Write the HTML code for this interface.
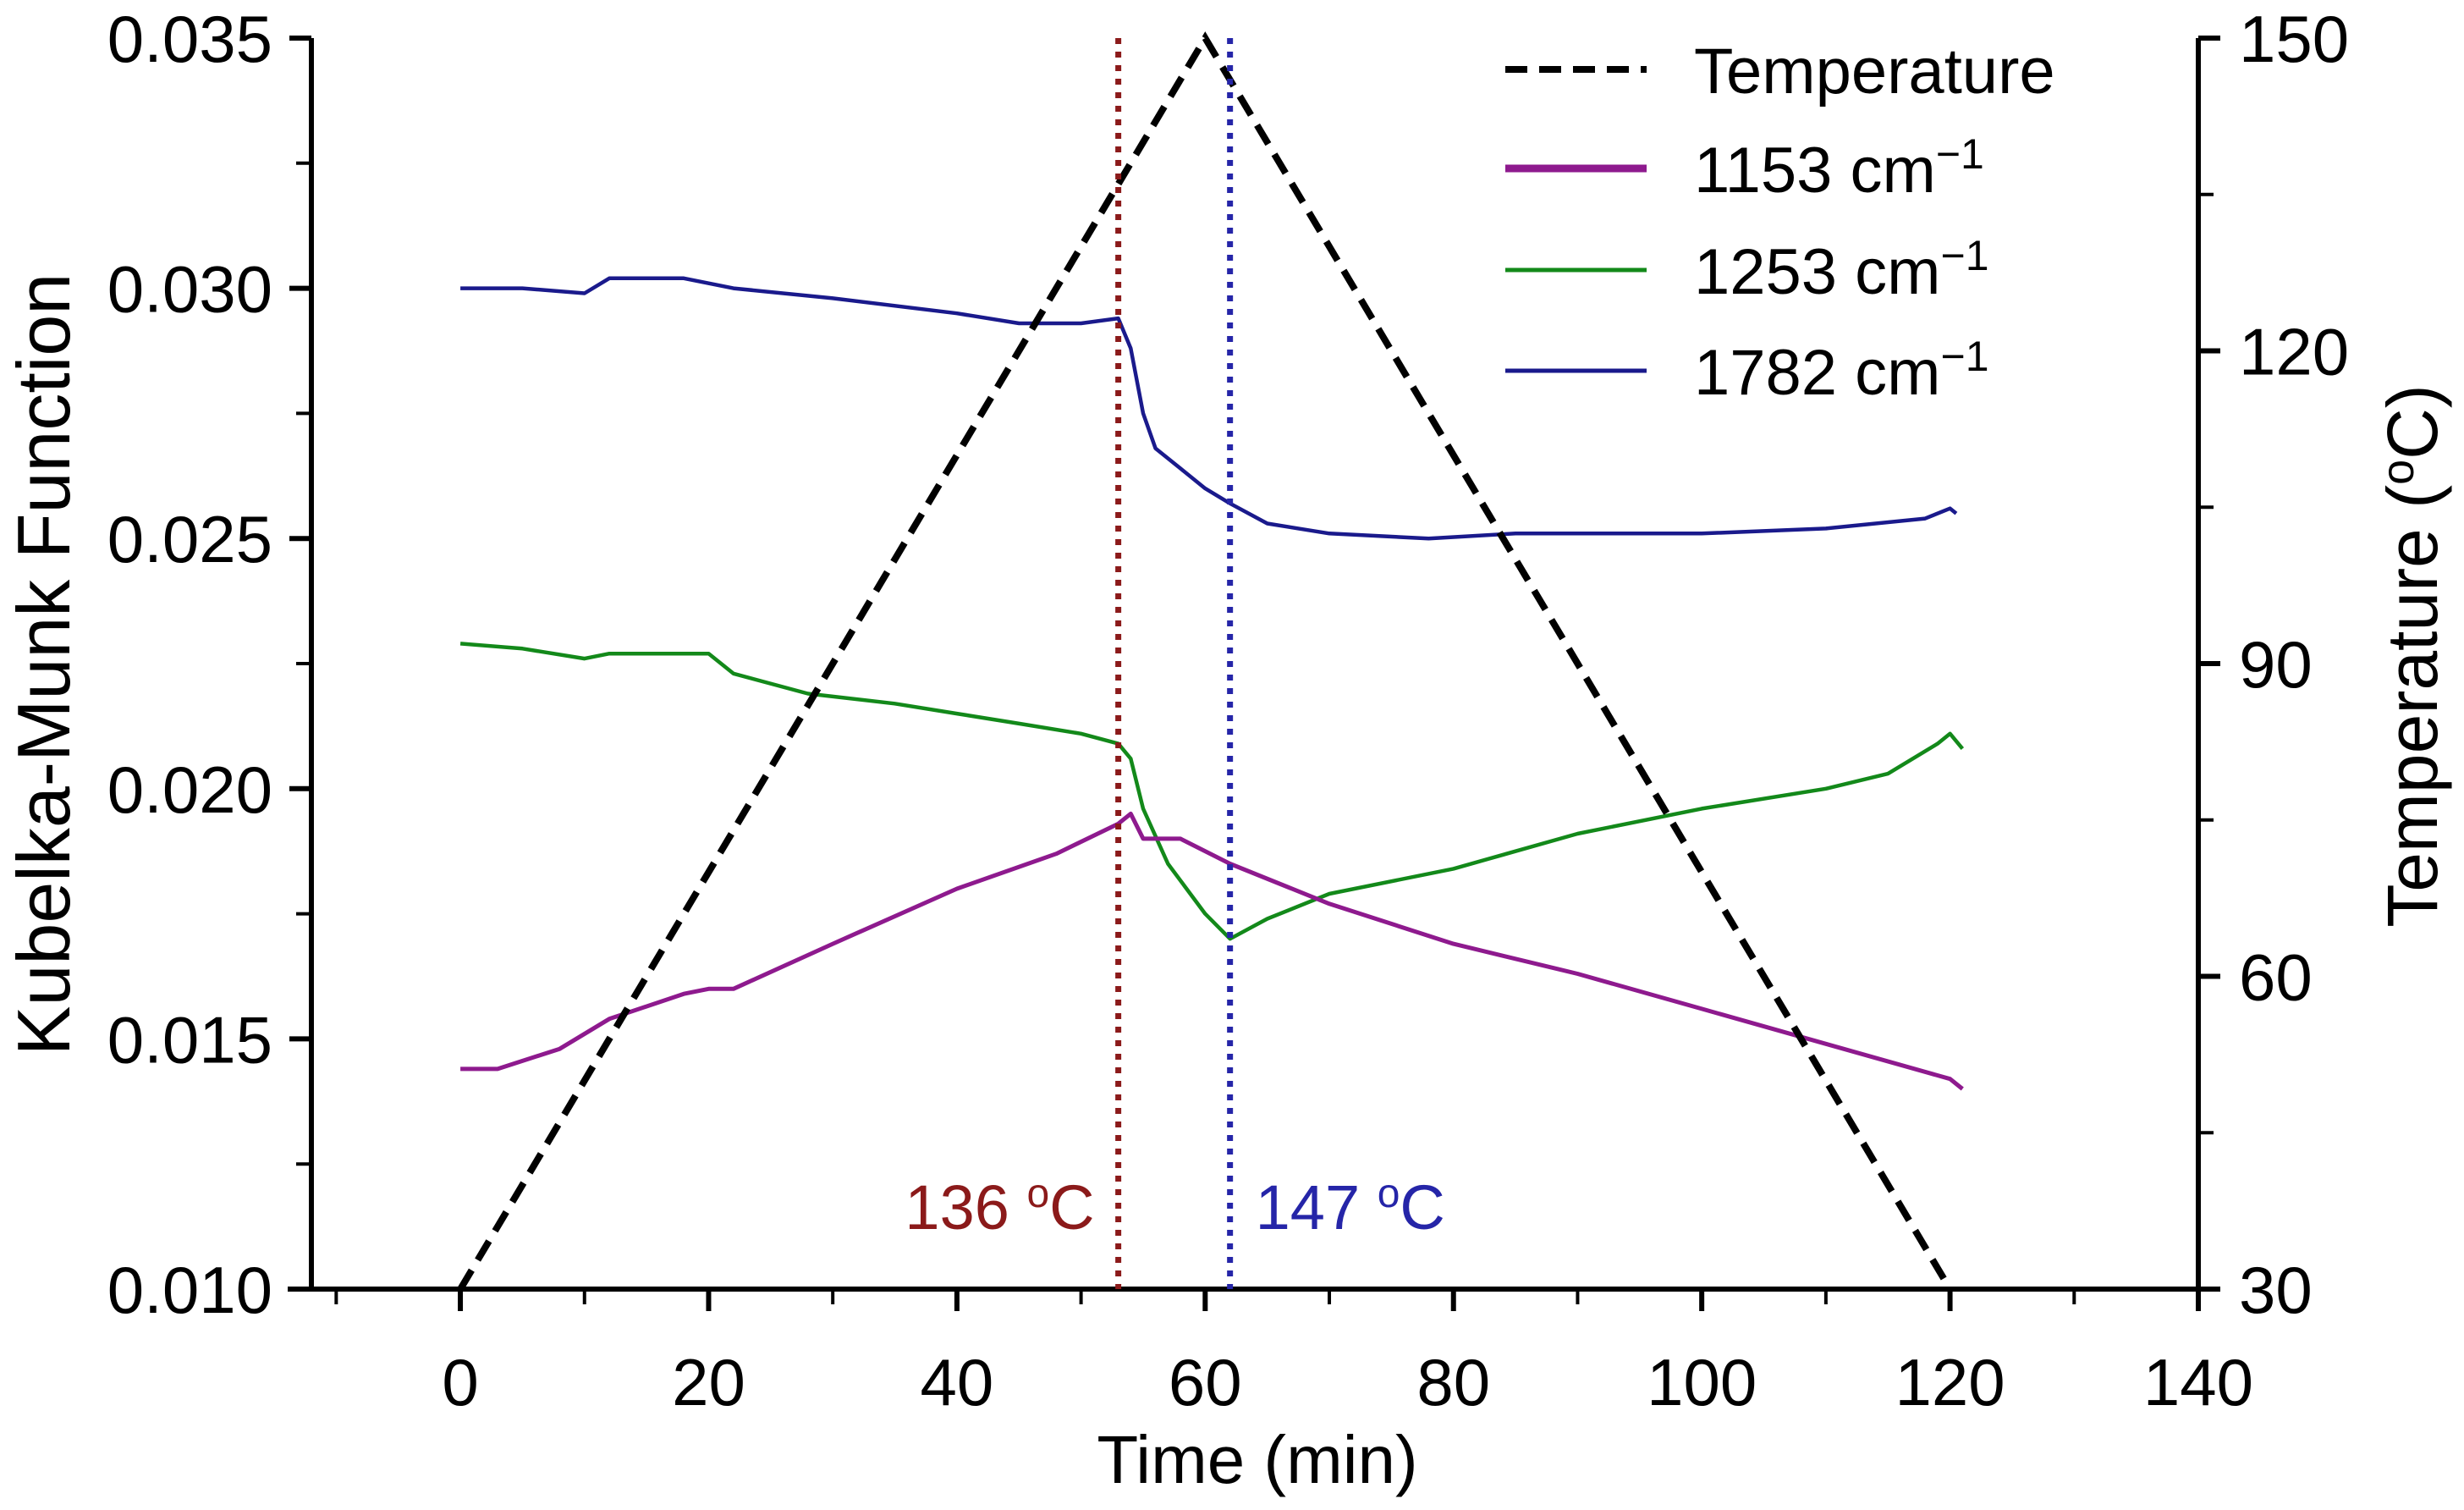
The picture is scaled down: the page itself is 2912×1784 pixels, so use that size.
<!DOCTYPE html>
<html><head><meta charset="utf-8">
<style>
html,body{margin:0;padding:0;background:#fff;}
svg{display:block;font-family:"Liberation Sans",Arial,sans-serif;}
</style></head>
<body>
<svg id="chart" width="2912" height="1784" viewBox="0 0 2912 1784" xmlns="http://www.w3.org/2000/svg">
<rect width="2912" height="1784" fill="#fff"/>
<text x="0" y="0" transform="translate(82,785) rotate(-90)" text-anchor="middle" font-size="88" fill="#000">Kubelka-Munk Function</text>
<text x="0" y="0" transform="translate(2880,775) rotate(-90)" text-anchor="middle" font-size="84" fill="#000">Temperature (<tspan dy="-28" font-size="54">o</tspan><tspan dy="28">C)</tspan></text>
<text x="1486" y="1752" text-anchor="middle" font-size="80" fill="#000">Time (min)</text>
</svg>
<script>
// ---- data ----
const xTicks = [0,20,40,60,80,100,120,140];
const yTicks = [0.010,0.015,0.020,0.025,0.030,0.035];
const yTickLabels = ["0.010","0.015","0.020","0.025","0.030","0.035"];
const y2Ticks = [30,60,90,120,150];
const tempX = [0,60,120];
const tempY = [30,150,30];
const x1153 = [0,3,8,12,18,20,22,30,40,48,53,54,55,58,62,70,80,90,100,110,120,121];
const y1153 = [0.0144,0.0144,0.0148,0.0154,0.0159,0.0160,0.0160,0.0169,0.0180,0.0187,0.0193,0.0195,0.0190,0.0190,0.0185,0.0177,0.0169,0.0163,0.0156,0.0149,0.0142,0.0140];
const x1253 = [0,5,10,12,20,22,28,35,40,45,50,53,54,55,57,60,62,65,70,80,90,100,110,115,119,120,121];
const y1253 = [0.0229,0.0228,0.0226,0.0227,0.0227,0.0223,0.0219,0.0217,0.0215,0.0213,0.0211,0.0209,0.0206,0.0196,0.0185,0.0175,0.0170,0.0174,0.0179,0.0184,0.0191,0.0196,0.0200,0.0203,0.0209,0.0211,0.0208];
const x1782 = [0,5,10,12,18,22,30,40,45,50,53,54,55,56,58,60,62,65,70,78,85,100,110,118,120,120.5];
const y1782 = [0.0300,0.0300,0.0299,0.0302,0.0302,0.0300,0.0298,0.0295,0.0293,0.0293,0.0294,0.0288,0.0275,0.0268,0.0264,0.0260,0.0257,0.0253,0.0251,0.0250,0.0251,0.0251,0.0252,0.0254,0.0256,0.0255];
const markers = [53,62];
const markerLabels = ["136","147"];

// ---- axes ----
const L=368, R=2598, T=45, B=1523;
const XMIN=-12, XMAX=140;
const sx = v => L + (v-XMIN)/(XMAX-XMIN)*(R-L);
const sy = v => B - (v-0.010)/(0.035-0.010)*(B-T);
const sy2 = v => B - (v-30)/(150-30)*(B-T);
const NS="http://www.w3.org/2000/svg";
const svg=document.getElementById('chart');
function mk(tag, attrs, parent){const e=document.createElementNS(NS,tag);for(const k in attrs)e.setAttribute(k,attrs[k]);(parent||svg).appendChild(e);return e;}
function pathOf(xs,ys,fy){return xs.map((x,i)=>(i?'L':'M')+sx(x).toFixed(1)+' '+fy(ys[i]).toFixed(1)).join(' ');}

let e;
e=mk('line',{x1:340,y1:B,x2:R,y2:B,stroke:'#000','stroke-width':6});


e=mk('line',{x1:L,y1:T,x2:L,y2:B+3,stroke:'#000','stroke-width':6});


e=mk('line',{x1:R,y1:T,x2:R,y2:B+3,stroke:'#000','stroke-width':6});



for(let v=-10; v<=140; v+=10){
  const major = v%20===0;
  e=mk('line',{x1:sx(v),y1:B,x2:sx(v),y2:B+(major?26:18),stroke:'#000','stroke-width':major?6:4});
  
  
}
xTicks.forEach(v=>{
  e=mk('text',{x:sx(v),y:1660,'text-anchor':'middle','font-size':78,fill:'#000'});
  e.textContent=String(v);
  
  
});
for(let v=0.010; v<=0.0351; v+=0.0025){
  const major = Math.abs(Math.round(v*1000/5)*5 - v*1000) < 0.01;
  e=mk('line',{x1:L,y1:sy(v),x2:L-(major?26:18),y2:sy(v),stroke:'#000','stroke-width':major?6:4});
  
  
}
yTicks.forEach((v,i)=>{
  e=mk('text',{x:322,y:sy(v)+28,'text-anchor':'end','font-size':78,fill:'#000'});
  e.textContent=yTickLabels[i];
  
  
});
for(let v=30; v<=150; v+=15){
  const major = v%30===0;
  e=mk('line',{x1:R,y1:sy2(v),x2:R+(major?26:18),y2:sy2(v),stroke:'#000','stroke-width':major?6:4});
  
  
}
y2Ticks.forEach(v=>{
  e=mk('text',{x:2646,y:sy2(v)+28,'text-anchor':'start','font-size':78,fill:'#000'});
  e.textContent=String(v);
  
  
});

e=mk('path',{d:pathOf(x1782,y1782,sy),fill:'none',stroke:'#1a1a8c','stroke-width':4.5,'stroke-linejoin':'round'});


e=mk('path',{d:pathOf(x1253,y1253,sy),fill:'none',stroke:'#13891a','stroke-width':4.5,'stroke-linejoin':'round'});


e=mk('path',{d:pathOf(x1153,y1153,sy),fill:'none',stroke:'#8e1a8e','stroke-width':5,'stroke-linejoin':'round'});


e=mk('path',{d:pathOf(tempX,tempY,sy2),fill:'none',stroke:'#000','stroke-width':8,'stroke-dasharray':'26 14'});



const mColors=['#8b1a1a','#2525a8'];
markers.forEach((m,i)=>{
  e=mk('line',{x1:sx(m),y1:T,x2:sx(m),y2:B,stroke:mColors[i],'stroke-width':7,'stroke-dasharray':'7 9'});
  
  
  const tx = i===0 ? sx(m)-28 : sx(m)+30;
  e=mk('text',{x:tx,y:1452,'text-anchor':i===0?'end':'start','font-size':74,fill:mColors[i]});
  e.innerHTML=markerLabels[i]+' <tspan dy="-26" font-size="48">o</tspan><tspan dy="26">C</tspan>';
  
  
});

const legNames=['Temperature','1153 cm','1253 cm','1782 cm'];
const legColors=['#000','#8e1a8e','#13891a','#1a1a8c'];
const legW=[8,9,5,5];
const legY=[82,199,319,438];
legNames.forEach((n,i)=>{
  const g=mk('g',{});
  
  
  const ln=mk('line',{x1:1779,y1:legY[i],x2:1946,y2:legY[i],stroke:legColors[i],'stroke-width':legW[i]},g);
  if(i===0) ln.setAttribute('stroke-dasharray','26 14');
  const t=mk('text',{x:2002,y:legY[i]+28,'font-size':76,fill:'#000'},g);
  t.innerHTML = i===0 ? n : n+'<tspan dy="-28" font-size="50">\u22121</tspan>';
});
</script>
</body></html>
